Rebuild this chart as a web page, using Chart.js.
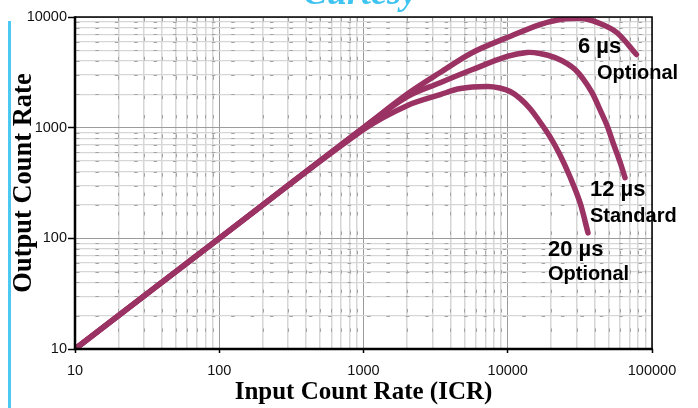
<!DOCTYPE html>
<html lang="en">
<head>
  <meta charset="UTF-8" />
  <title>Output vs Input Count Rate</title>
  <script src="https://cdn.jsdelivr.net/npm/chart.js"></script>
  <style>
    html, body { margin: 0; padding: 0; background: #fff; }
    #wrap { width: 698px; height: 408px; }
  </style>
</head>
<body>
  <div id="wrap">
    <canvas id="ocr-chart" width="698" height="408"></canvas>
  </div>

  <script>
    // decade ticks on both axes
    const xTicks = [10, 100, 1000, 10000, 100000];
    const yTicks = [10, 100, 1000, 10000];
    const xTickLabels = ['10', '100', '1000', '10000', '100000'];
    const yTickLabels = ['10', '100', '1000', '10000'];

    // 6 us peaking time
    const icr6 = [10, 100, 1000, 2000, 3400, 5700, 9900, 16700, 23000, 28000, 35000, 44000, 57000, 78000];
    const ocr6 = [10, 100, 1000, 2000, 3150, 4780, 6520, 8550, 9500, 9700, 9600, 8700, 7240, 4580];

    // 12 us peaking time
    const icr12 = [10, 100, 1000, 2000, 3400, 5700, 9900, 13600, 16700, 21300, 25800, 29300, 33200, 38400, 43600, 48800, 53700, 60000, 65000];
    const ocr12 = [10, 100, 1000, 1900, 2550, 3350, 4400, 4780, 4680, 4300, 3790, 3350, 2775, 2075, 1455, 1045, 731, 490, 353];

    // 20 us peaking time
    const icr20 = [10, 100, 1000, 2000, 3400, 4700, 7200, 8800, 10400, 12200, 14300, 16700, 19600, 23000, 27000, 31700, 36000];
    const ocr20 = [10, 100, 960, 1580, 1990, 2255, 2350, 2280, 2120, 1830, 1485, 1130, 830, 570, 360, 210, 112];

    // curve captions: two lines, anchored in data units (left edge, vertical centre)
    const captions = [
      { x: 30700, y: 5410, text: '6 \u00b5s', size: 22 },
      { x: 41600, y: 3080, text: 'Optional', size: 20 },
      { x: 37150, y: 275, text: '12 \u00b5s', size: 22 },
      { x: 37150, y: 157, text: 'Standard', size: 20 },
      { x: 19000, y: 79, text: '20 \u00b5s', size: 22 },
      { x: 19000, y: 47, text: 'Optional', size: 20 }
    ];

    const CURVE = '#9a3263';

    const toPoints = (xs, ys) => xs.map((x, i) => ({ x, y: ys[i] }));

    // 1..9 x each decade, for the grid
    function decadeSteps(majors) {
      const out = [];
      majors.forEach((m, i) => {
        out.push(m);
        if (i < majors.length - 1) for (let k = 2; k <= 9; k++) out.push(m * k);
      });
      return out;
    }
    const isMajor = (list, v) => list.some(m => Math.abs(m - v) / m < 1e-6);

    const sheetPlugin = {
      id: 'sheet',
      beforeDraw(chart) {
        const { ctx, width, height } = chart;
        ctx.save();
        ctx.fillStyle = '#fff';
        ctx.fillRect(0, 0, width, height);

        // blue rule down the left margin
        ctx.strokeStyle = '#4cc8f2';
        ctx.lineWidth = 3;
        ctx.beginPath();
        ctx.moveTo(9.5, 21);
        ctx.lineTo(9.5, height);
        ctx.stroke();

        ctx.fillStyle = '#3fc3f0';
        ctx.font = 'italic bold 36px "Liberation Serif", "DejaVu Serif", serif';
        ctx.textAlign = 'center';
        ctx.textBaseline = 'alphabetic';
        ctx.fillText('Curtesy', 360, 4);
        ctx.restore();
      },
      beforeDatasetsDraw(chart) {
        // short dashes along every minor grid line
        const { ctx, chartArea: a, scales } = chart;
        ctx.save();
        ctx.strokeStyle = '#a3a3a3';
        ctx.lineWidth = 1;
        ctx.setLineDash([3.5, 15.9]);
        scales.x.ticks.forEach(t => {
          if (isMajor(xTicks, t.value)) return;
          const px = Math.round(scales.x.getPixelForValue(t.value)) + 0.5;
          ctx.beginPath();
          ctx.moveTo(px, a.top + 1);
          ctx.lineTo(px, a.bottom);
          ctx.stroke();
        });
        scales.y.ticks.forEach(t => {
          if (isMajor(yTicks, t.value)) return;
          const py = Math.round(scales.y.getPixelForValue(t.value)) + 0.5;
          ctx.beginPath();
          ctx.moveTo(a.left + 1, py);
          ctx.lineTo(a.right, py);
          ctx.stroke();
        });
        ctx.restore();
      },
      afterDraw(chart) {
        const { ctx, chartArea: a, scales } = chart;
        ctx.save();
        // frame
        ctx.strokeStyle = '#000';
        ctx.lineWidth = 1.5;
        ctx.beginPath();
        ctx.moveTo(a.left, a.top);
        ctx.lineTo(a.right, a.top);
        ctx.lineTo(a.right, a.bottom);
        ctx.stroke();
        ctx.lineWidth = 2.5;
        ctx.beginPath();
        ctx.moveTo(a.left, a.top - 0.75);
        ctx.lineTo(a.left, a.bottom);
        ctx.lineTo(a.right + 0.75, a.bottom);
        ctx.stroke();

        // curve captions
        ctx.fillStyle = '#000';
        ctx.textAlign = 'left';
        ctx.textBaseline = 'middle';
        captions.forEach(c => {
          ctx.font = `bold ${c.size}px "Liberation Sans", Arial, sans-serif`;
          ctx.fillText(c.text, scales.x.getPixelForValue(c.x), scales.y.getPixelForValue(c.y));
        });
        ctx.restore();
      }
    };

    const curve = (label, xs, ys) => ({
      label,
      data: toPoints(xs, ys),
      borderColor: CURVE,
      backgroundColor: CURVE,
      borderWidth: 5.5,
      borderCapStyle: 'round',
      borderJoinStyle: 'round',
      pointRadius: 0,
      tension: 0.35,
      fill: false
    });

    const gridColor = major => ctx =>
      ctx.tick && isMajor(major, ctx.tick.value) ? '#9c9c9c' : '#d6d6d6';

    new Chart(document.getElementById('ocr-chart'), {
      type: 'line',
      data: {
        datasets: [
          curve('6 \u00b5s', icr6, ocr6),
          curve('12 \u00b5s', icr12, ocr12),
          curve('20 \u00b5s', icr20, ocr20)
        ]
      },
      options: {
        responsive: false,
        animation: false,
        layout: { padding: { left: 0, right: 46, top: 17, bottom: 0 } },
        plugins: { legend: { display: false }, tooltip: { enabled: false } },
        scales: {
          x: {
            type: 'logarithmic',
            min: 10,
            max: 100000,
            afterBuildTicks: s => { s.ticks = decadeSteps(xTicks).map(v => ({ value: v })); },
            afterFit: s => { s.height = 59; },
            border: { display: false },
            grid: {
              color: gridColor(xTicks),
              lineWidth: ctx => ctx.tick && isMajor(xTicks, ctx.tick.value) ? 1 : 1.5,
              tickLength: 4,
              tickWidth: 1.5,
              tickColor: ctx => ctx.tick && isMajor(xTicks, ctx.tick.value) ? '#000' : 'rgba(0,0,0,0)'
            },
            ticks: {
              autoSkip: false,
              minRotation: 0,
              maxRotation: 0,
              padding: 9,
              color: '#111',
              font: { family: '"Liberation Sans", Arial, sans-serif', size: 14.5 },
              callback: v => {
                const i = xTicks.findIndex(m => Math.abs(m - v) / m < 1e-6);
                return i >= 0 ? xTickLabels[i] : '';
              }
            },
            title: {
              display: true,
              text: 'Input Count Rate (ICR)',
              color: '#000',
              padding: { top: 0, bottom: 0 },
              font: { family: '"Liberation Serif", "Times New Roman", serif', size: 25, weight: 'bold' }
            }
          },
          y: {
            type: 'logarithmic',
            min: 10,
            max: 10000,
            afterBuildTicks: s => { s.ticks = decadeSteps(yTicks).map(v => ({ value: v })); },
            afterFit: s => { s.width = 75; },
            border: { display: false },
            grid: {
              color: gridColor(yTicks),
              lineWidth: ctx => ctx.tick && isMajor(yTicks, ctx.tick.value) ? 1 : 1.2,
              tickLength: 7,
              tickWidth: 1.5,
              tickColor: ctx => ctx.tick && isMajor(yTicks, ctx.tick.value) ? '#000' : 'rgba(0,0,0,0)'
            },
            ticks: {
              autoSkip: false,
              padding: 1,
              color: '#111',
              font: { family: '"Liberation Sans", Arial, sans-serif', size: 14.5 },
              callback: v => {
                const i = yTicks.findIndex(m => Math.abs(m - v) / m < 1e-6);
                return i >= 0 ? yTickLabels[i] : '';
              }
            },
            title: {
              display: true,
              text: 'Output Count Rate',
              color: '#000',
              padding: { top: 8, bottom: 0 },
              font: { family: '"Liberation Serif", "Times New Roman", serif', size: 26.5, weight: 'bold' }
            }
          }
        }
      },
      plugins: [sheetPlugin]
    });
  </script>
</body>
</html>
